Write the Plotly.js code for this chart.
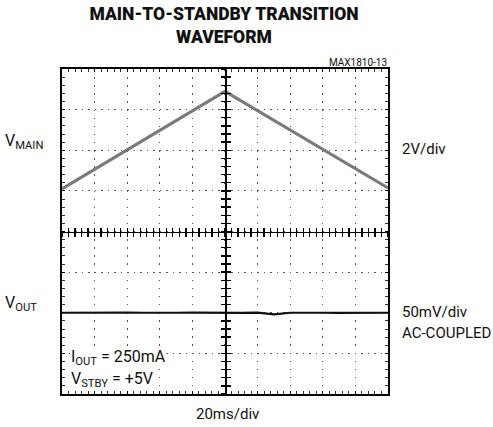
<!DOCTYPE html>
<html>
<head>
<meta charset="utf-8">
<script src="https://cdn.plot.ly/plotly-3.0.1.min.js"></script>
<style>html,body{margin:0;padding:0;background:#fff;}#chart{width:493px;height:427px;}</style>
</head>
<body>
<div id="chart"></div>
<script>
// Time in divisions (20ms/div), amplitude in divisions
const mainX = [0, 5, 10];
const vMain = [1.05, 3.45, 1.07];
const outX = [0, 0.5, 1, 1.5, 2, 2.5, 3, 3.5, 4, 4.5, 5, 5.5, 6, 6.5, 7, 7.5, 8, 8.5, 9, 9.5, 10];
const vOut = [-2.00, -1.995, -2.005, -2.00, -1.995, -2.00, -2.005, -2.00, -1.995, -2.00, -2.00, -2.005, -1.995, -2.04, -2.00, -1.995, -2.00, -2.005, -2.00, -1.995, -2.00];

const L = 62, R = 388, T = 69, B = 394;
const W = R - L, H = B - T;
const px = x => (x - L) / W;
const py = y => (B - y) / H;
const FONT = 'Roboto, "Liberation Sans", sans-serif';

const traces = [
  {x: mainX, y: vMain, mode: 'lines', line: {color: '#7a7a7a', width: 3}, hoverinfo: 'skip'},
  {x: outX, y: vOut, mode: 'lines', line: {color: '#111', width: 2.2}, hoverinfo: 'skip'},
  {x: [], y: [], xaxis: 'x2', yaxis: 'y2', hoverinfo: 'skip'},
  {x: [], y: [], xaxis: 'x3', yaxis: 'y3', hoverinfo: 'skip'}
];

const baseX = {range: [0, 10], showticklabels: false, zeroline: false, fixedrange: true};
const baseY = {range: [-4, 4], showticklabels: false, zeroline: false, fixedrange: true};

const layout = {
  width: 493, height: 427,
  margin: {l: L, r: 493 - R, t: T, b: 427 - B, pad: 0},
  paper_bgcolor: '#fff', plot_bgcolor: '#fff',
  showlegend: false,
  font: {family: FONT, color: '#111', size: 15},
  title: {
    text: 'MAIN-TO-STANDBY TRANSITION<br>WAVEFORM',
    font: {family: FONT, size: 17.5, color: '#111', weight: 900},
    x: px(224), xref: 'paper', xanchor: 'center',
    y: 1 - 20 / 427, yref: 'container', yanchor: 'top'
  },
  xaxis: Object.assign({}, baseX, {
    dtick: 1, showgrid: true, gridcolor: '#555', gridwidth: 1.2, griddash: '1.5px,6.6px',
    showline: true, mirror: 'allticks', linecolor: '#000', linewidth: 2,
    ticks: 'inside', ticklen: 3, tickcolor: '#000', tickwidth: 1,
    minor: {dtick: 0.2, ticks: 'inside', ticklen: 3, tickcolor: '#333', tickwidth: 1, showgrid: false}
  }),
  yaxis: Object.assign({}, baseY, {
    dtick: 1, showgrid: true, gridcolor: '#555', gridwidth: 1.2, griddash: '1.5px,5px',
    showline: true, mirror: 'allticks', linecolor: '#000', linewidth: 2,
    ticks: 'inside', ticklen: 3, tickcolor: '#000', tickwidth: 1,
    minor: {dtick: 0.2, ticks: 'inside', ticklen: 3, tickcolor: '#333', tickwidth: 1, showgrid: false}
  }),
  xaxis2: Object.assign({}, baseX, {
    overlaying: 'x', anchor: 'free', position: 0.5, showgrid: false,
    showline: true, linecolor: '#000', linewidth: 1.5,
    dtick: 0.2, ticks: 'inside', ticklen: 4, tickcolor: '#000', tickwidth: 1.3
  }),
  xaxis3: Object.assign({}, baseX, {
    overlaying: 'x', anchor: 'free', position: 0.5, showgrid: false, showline: false,
    dtick: 0.2, ticks: 'outside', ticklen: 4, tickcolor: '#000', tickwidth: 1.3
  }),
  yaxis2: Object.assign({}, baseY, {
    overlaying: 'y', anchor: 'free', position: 0.5, showgrid: false,
    showline: true, linecolor: '#000', linewidth: 1.5,
    dtick: 0.2, ticks: 'inside', ticklen: 4, tickcolor: '#000', tickwidth: 1.3
  }),
  yaxis3: Object.assign({}, baseY, {
    overlaying: 'y', anchor: 'free', position: 0.5, showgrid: false, showline: false,
    dtick: 0.2, ticks: 'outside', ticklen: 4, tickcolor: '#000', tickwidth: 1.3
  }),
  annotations: [
    {text: 'MAX1810-13', x: px(388), y: py(62), xanchor: 'right', yanchor: 'middle', font: {size: 10}},
    {text: 'V<sub>MAIN</sub>', x: px(4), y: py(141), xanchor: 'left', yanchor: 'middle', font: {size: 16}},
    {text: 'V<sub>OUT</sub>', x: px(4), y: py(303), xanchor: 'left', yanchor: 'middle', font: {size: 16}},
    {text: '2V/div', x: px(401), y: py(149), xanchor: 'left', yanchor: 'middle'},
    {text: '50mV/div', x: px(401), y: py(312), xanchor: 'left', yanchor: 'middle'},
    {text: 'AC-COUPLED', x: px(401), y: py(333), xanchor: 'left', yanchor: 'middle'},
    {text: 'I<sub>OUT</sub> = 250mA', x: px(70), y: py(357), xanchor: 'left', yanchor: 'middle', bgcolor: '#fff', font: {size: 16}},
    {text: 'V<sub>STBY</sub> = +5V', x: px(70), y: py(379), xanchor: 'left', yanchor: 'middle', bgcolor: '#fff', font: {size: 16}},
    {text: '20ms/div', x: px(227), y: py(414), xanchor: 'center', yanchor: 'middle'}
  ].map(a => Object.assign({xref: 'paper', yref: 'paper', showarrow: false, borderpad: 0}, a))
};

Plotly.newPlot('chart', traces, layout, {staticPlot: true, displayModeBar: false});
</script>
</body>
</html>
